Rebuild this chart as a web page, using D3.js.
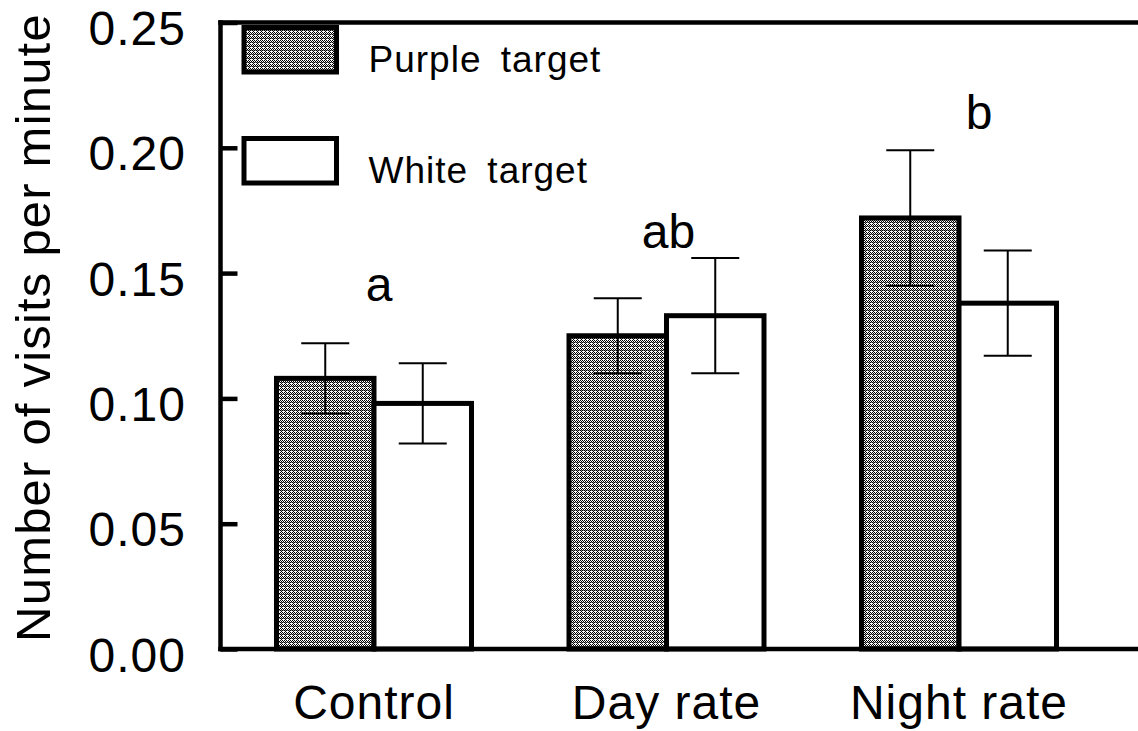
<!DOCTYPE html>
<html>
<head>
<meta charset="utf-8">
<script src="https://cdn.jsdelivr.net/npm/d3@7"></script>
<style>
  html, body { margin: 0; padding: 0; background: #fff; }
  svg { display: block; }
  text { font-family: Arial, "Liberation Sans", sans-serif; fill: #000; }
</style>
</head>
<body>
<svg id="chart" width="1138" height="731"></svg>
<script>
// ---- data ----
const categories = ["Control", "Day rate", "Night rate"];
const seriesNames = ["Purple target", "White target"];
const purpleMeans = [0.108, 0.125, 0.172];
const purpleSE = [0.014, 0.015, 0.027];
const whiteMeans = [0.098, 0.133, 0.138];
const whiteSE = [0.016, 0.023, 0.021];
const sigLetters = ["a", "ab", "b"];
const sigLetterLevels = [0.139, 0.160, 0.2077];
const yTicks = [0, 0.05, 0.10, 0.15, 0.20, 0.25];
const yTitle = "Number of visits per minute";

// ---- layout ----
const W = 1138, H = 731;
const axisX = 220.5;
const yTop = 22.5, yBottom = 649;
const svg = d3.select("#chart");

const defs = svg.append("defs");
const pat = defs.append("pattern")
  .attr("id", "hatch").attr("patternUnits", "userSpaceOnUse")
  .attr("width", 4).attr("height", 4);
pat.append("rect").attr("width", 4).attr("height", 4).attr("fill", "#fff");
[[0,0],[2,0],[1,1],[3,1],[0,2],[2,2],[1,3]].forEach(([px,py]) => {
  pat.append("rect").attr("x", px).attr("y", py).attr("width", 1).attr("height", 1)
    .attr("fill", "#000").attr("shape-rendering", "crispEdges");
});
pat.append("rect").attr("x", 1).attr("y", 2).attr("width", 1).attr("height", 1).attr("fill", "#888");
pat.append("rect").attr("x", 3).attr("y", 2).attr("width", 1).attr("height", 1).attr("fill", "#888");

const y = d3.scaleLinear().domain([0, 0.25]).range([yBottom, yTop]);
const x = d3.scaleBand().domain(categories).range([227.75, 1105.25])
  .paddingInner(1/3).paddingOuter(1/6);
const xs = d3.scaleBand().domain(seriesNames).range([0, x.bandwidth()]);

const rows = [];
categories.forEach((c, i) => {
  rows.push({cat: c, s: seriesNames[0], v: purpleMeans[i], se: purpleSE[i]});
  rows.push({cat: c, s: seriesNames[1], v: whiteMeans[i], se: whiteSE[i]});
});
const fillFor = s => s === seriesNames[0] ? "url(#hatch)" : "#fff";

// bars
svg.append("g").selectAll("rect").data(rows).join("rect")
  .attr("x", d => x(d.cat) + xs(d.s))
  .attr("y", d => y(d.v))
  .attr("width", xs.bandwidth())
  .attr("height", d => y(0) - y(d.v))
  .attr("fill", d => fillFor(d.s))
  .attr("stroke", "#000").attr("stroke-width", 5);

// error bars
const capHalf = 24;
const eb = svg.append("g").attr("stroke", "#000").attr("stroke-width", 2);
rows.forEach(d => {
  const cx = x(d.cat) + xs(d.s) + xs.bandwidth() / 2;
  eb.append("line").attr("x1", cx).attr("x2", cx).attr("y1", y(d.v - d.se)).attr("y2", y(d.v + d.se));
  eb.append("line").attr("x1", cx - capHalf).attr("x2", cx + capHalf).attr("y1", y(d.v + d.se)).attr("y2", y(d.v + d.se));
  eb.append("line").attr("x1", cx - capHalf).attr("x2", cx + capHalf).attr("y1", y(d.v - d.se)).attr("y2", y(d.v - d.se));
});

// y axis
const yAxis = d3.axisLeft(y).tickValues(yTicks).tickFormat(d3.format(".2f"))
  .tickSizeInner(-17).tickSizeOuter(0).tickPadding(34.5);
const gy = svg.append("g").attr("transform", `translate(${axisX},0)`).call(yAxis);
gy.select(".domain").remove();
gy.selectAll(".tick line").attr("stroke", "#000").attr("stroke-width", 4.5);
gy.selectAll(".tick text").attr("font-size", 48).attr("letter-spacing", 1)
  .attr("dy", null).attr("y", 22).attr("font-family", "Arial, 'Liberation Sans', sans-serif");

// frame lines (left, top, bottom)
const frame = svg.append("g").attr("stroke", "#000").attr("stroke-width", 4.5).attr("stroke-linecap", "square");
frame.append("line").attr("x1", axisX).attr("x2", axisX).attr("y1", y(0.25)).attr("y2", y(0));
frame.append("line").attr("x1", axisX).attr("x2", W + 5).attr("y1", y(0.25)).attr("y2", y(0.25));
frame.append("line").attr("x1", axisX).attr("x2", W + 5).attr("y1", y(0)).attr("y2", y(0));

// x axis labels
const xAxis = d3.axisBottom(x).tickSize(0).tickPadding(0);
const gx = svg.append("g").attr("transform", `translate(0,${y(0)})`).call(xAxis);
gx.select(".domain").remove();
gx.selectAll(".tick text").attr("font-size", 48).attr("letter-spacing", 1)
  .attr("dy", null).attr("y", 70).attr("font-family", "Arial, 'Liberation Sans', sans-serif");

// y title
svg.append("text")
  .attr("transform", `translate(50,${(640 + 15) / 2}) rotate(-90)`)
  .attr("text-anchor", "middle").attr("font-size", 49).attr("letter-spacing", 1.2)
  .text(yTitle);

// significance letters
const letterDx = [5, 2, 20];
svg.append("g").selectAll("text").data(sigLetters).join("text")
  .attr("x", (d, i) => x(categories[i]) + x.bandwidth() / 2 + letterDx[i])
  .attr("y", (d, i) => y(sigLetterLevels[i]))
  .attr("text-anchor", "middle").attr("font-size", 48)
  .text(d => d);

// legend
const legend = svg.append("g");
const legY = [27.5, 138.5];
seriesNames.forEach((s, i) => {
  legend.append("rect").attr("x", 244).attr("y", legY[i]).attr("width", 92.5).attr("height", 44.5)
    .attr("fill", fillFor(s)).attr("stroke", "#000").attr("stroke-width", 5);
  legend.append("text").attr("x", 368.5).attr("y", legY[i] + 44)
    .attr("font-size", 37).attr("letter-spacing", 1).attr("word-spacing", 8)
    .text(s);
});
</script>
</body>
</html>
